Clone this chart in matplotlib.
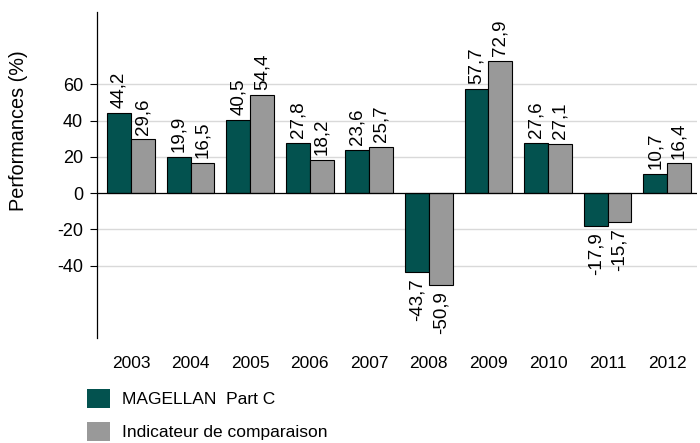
import matplotlib
matplotlib.use("Agg")
import matplotlib.pyplot as plt
import numpy as np
from matplotlib.patches import Patch

plt.rcParams['font.family'] = ['Liberation Sans', 'DejaVu Sans']

years = ['2003', '2004', '2005', '2006', '2007', '2008', '2009', '2010', '2011', '2012']
magellan = [44.2, 19.9, 40.5, 27.8, 23.6, -43.7, 57.7, 27.6, -17.9, 10.7]
indicateur = [29.6, 16.5, 54.4, 18.2, 25.7, -50.9, 72.9, 27.1, -15.7, 16.4]
yticks = [-40, -20, 0, 20, 40, 60]

c1 = '#03524f'
c2 = '#999999'

fig = plt.figure(figsize=(7.0, 4.43), dpi=100)
ax = fig.add_axes([0.1386, 0.237, 0.857, 0.736])

x = np.arange(len(years))
w = 0.4
b1 = ax.bar(x - w/2, magellan, w, color=c1, edgecolor='black', linewidth=0.8, zorder=3)
b2 = ax.bar(x + w/2, indicateur, w, color=c2, edgecolor='black', linewidth=0.8, zorder=3)

def fmt(v):
    return f"{v:.1f}".replace('.', ',')

for bars, vals in ((b1, magellan), (b2, indicateur)):
    for rect, v in zip(bars, vals):
        cx = rect.get_x() + rect.get_width() / 2
        if v >= 0:
            ax.annotate(fmt(v), (cx, v), xytext=(0, 3.5), textcoords='offset points',
                        rotation=90, ha='center', va='bottom', fontsize=13.5)
        else:
            ax.annotate(fmt(v), (cx, v), xytext=(0, -4.5), textcoords='offset points',
                        rotation=90, ha='center', va='top', fontsize=13.5)

ax.set_ylim(-80, 100)
ax.set_xlim(-0.57, 9.5)
ax.set_yticks(yticks)
ax.set_yticklabels([str(t) for t in yticks], fontsize=13)
for t in yticks:
    if t != 0:
        ax.axhline(t, color='#d9d9d9', linewidth=1, zorder=1)
ax.axhline(0, color='black', linewidth=0.9, zorder=4)

ax.set_xticks(x)
ax.set_xticklabels(years, fontsize=12.5)
ax.tick_params(axis='x', length=0, pad=13)
ax.tick_params(axis='y', length=5, width=0.8, direction='out', pad=5)

for s in ('top', 'right', 'bottom'):
    ax.spines[s].set_visible(False)
ax.spines['left'].set_linewidth(0.9)

ax.set_ylabel('Performances (%)', fontsize=14.3)
ax.yaxis.set_label_coords(-0.115, 0.635)

handles = [Patch(facecolor=c1, edgecolor='none', label='MAGELLAN  Part C'),
           Patch(facecolor=c2, edgecolor='none', label='Indicateur de comparaison')]
fig.legend(handles=handles, loc='upper left', bbox_to_anchor=(0.124, 0.122),
           frameon=False, fontsize=12.5, handlelength=1.32, handleheight=1.32,
           handletextpad=0.69, labelspacing=0.78, borderaxespad=0, borderpad=0)

fig.savefig('out.png', dpi=100)
